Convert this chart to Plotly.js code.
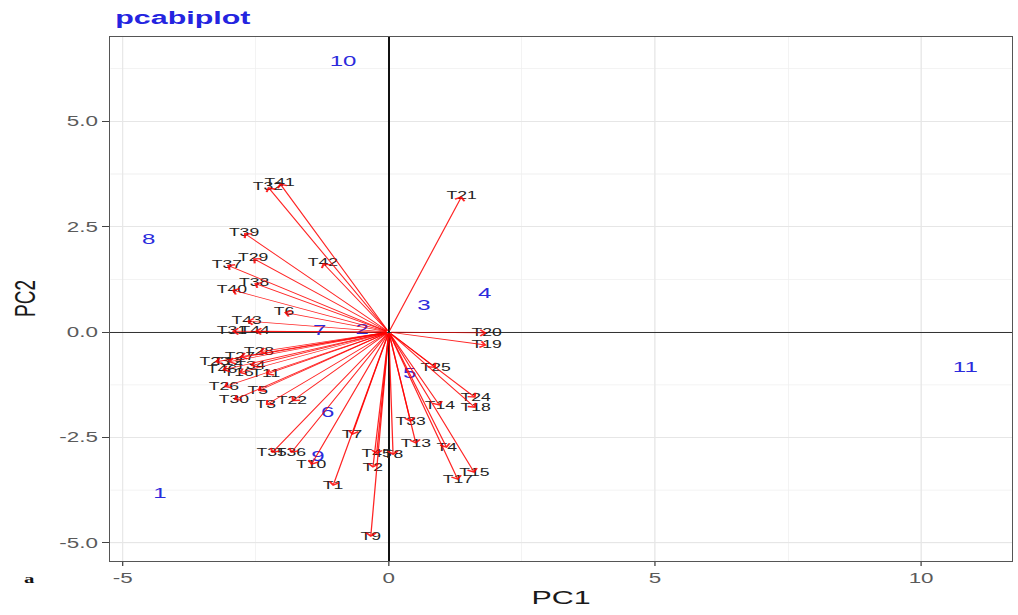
<!DOCTYPE html>
<html>
<head>
<meta charset="utf-8">
<script src="https://cdn.plot.ly/plotly-3.0.1.min.js"></script>
<style>
html,body{margin:0;padding:0;background:#fff;}
#wrap{width:1018px;height:615px;overflow:hidden;}
#plot{width:636px;height:615px;transform:scaleX(1.6006);transform-origin:0 0;}
</style>
</head>
<body>
<div id="wrap"><div id="plot"></div></div>
<script>
// Observations (blue numbers)
const obsLabels = ['1','2','3','4','5','6','7','8','9','10','11'];
const obsPC1 = [-4.30,-0.50,0.66,1.80,0.39,-1.15,-1.30,-4.51,-1.33,-0.86,10.83];
const obsPC2 = [-3.84,0.05,0.62,0.90,-1.00,-1.92,0.02,2.18,-2.96,6.40,-0.85];

// Variable loadings (red arrows)
const varNames = ['T41','T32','T21','T39','T42','T37','T29','T38','T40','T6',
  'T43','T31','T44','T20','T19','T25','T24','T18','T14','T33',
  'T13','T4','T15','T17','T8','T45','T2','T9','T1','T7',
  'T10','T36','T35','T22','T3','T5','T30','T26','T11','T16',
  'T28','T23','T12','T46','T27','T34'];
const varPC1 = [-2.05,-2.27,1.37,-2.72,-1.24,-3.04,-2.55,-2.53,-2.95,-1.97,
  -2.67,-2.95,-2.52,1.84,1.84,0.88,1.63,1.63,0.96,0.41,
  0.51,1.09,1.61,1.30,0.08,-0.23,-0.30,-0.34,-1.05,-0.69,
  -1.46,-1.84,-2.20,-1.82,-2.31,-2.46,-2.91,-3.10,-2.31,-2.82,
  -2.44,-3.27,-3.02,-3.13,-2.80,-2.60];
const varPC2 = [3.53,3.44,3.22,2.35,1.64,1.59,1.75,1.16,1.00,0.47,
  0.26,0.02,0.02,-0.02,-0.31,-0.85,-1.56,-1.80,-1.75,-2.13,
  -2.65,-2.75,-3.34,-3.51,-2.92,-2.90,-3.22,-4.86,-3.65,-2.44,
  -3.15,-2.87,-2.87,-1.64,-1.73,-1.40,-1.61,-1.30,-1.00,-0.97,
  -0.47,-0.71,-0.71,-0.90,-0.59,-0.80];

const xTicks = [-5,0,5,10];
const yTicks = [-5,-2.5,0,2.5,5];
const yTickText = ['-5.0','-2.5','0.0','2.5','5.0'];

const FONT = 'Liberation Sans, Arial, sans-serif';

const traces = [
  {
    type:'scatter', mode:'text', x:varPC1, y:varPC2, text:varNames,
    textposition:'middle center',
    textfont:{family:FONT, size:11, color:'#222'},
    hoverinfo:'skip', showlegend:false, cliponaxis:false
  },
  {
    type:'scatter', mode:'text', x:obsPC1, y:obsPC2, text:obsLabels,
    textposition:'middle center',
    textfont:{family:FONT, size:15, color:'#2b2bdc'},
    hoverinfo:'skip', showlegend:false, cliponaxis:false
  }
];

const annotations = varNames.map((n,i)=>({
  x:varPC1[i], y:varPC2[i], xref:'x', yref:'y',
  ax:0, ay:0, axref:'x', ayref:'y',
  text:'', showarrow:true, arrowhead:4, arrowsize:1.5, arrowwidth:0.8,
  arrowcolor:'rgba(255,0,0,0.85)', standoff:0, startstandoff:0
}));

annotations.push(
  {xref:'paper', yref:'paper', x:0, y:1, xanchor:'left', yanchor:'middle', yshift:20, xshift:1,
   text:'pcabiplot', showarrow:false, font:{family:FONT, size:19, color:'#2424e0', weight:'bold'}},
  {xref:'paper', yref:'paper', x:0.5, y:0, xanchor:'center', yanchor:'middle', yshift:-36,
   text:'PC1', showarrow:false, font:{family:FONT, size:19, color:'#1a1a1a'}},
  {xref:'paper', yref:'paper', x:0, y:0.5, xanchor:'center', yanchor:'middle', xshift:-54,
   text:'PC2', textangle:-90, showarrow:false, font:{family:FONT, size:19, color:'#1a1a1a'}},
  {xref:'paper', yref:'paper', x:0, y:0, xanchor:'center', yanchor:'middle', xshift:-51, yshift:-17,
   text:'a', showarrow:false, font:{family:'Liberation Serif, serif', size:13, color:'#111', weight:'bold'}}
);

const layout = {
  width:636, height:615,
  margin:{l:69, r:4, t:37, b:54, pad:0},
  paper_bgcolor:'#ffffff', plot_bgcolor:'#ffffff',
  showlegend:false,
  xaxis:{
    range:[-5.23,11.70], tickvals:xTicks, ticktext:xTicks.map(String),
    showgrid:true, gridcolor:'#e6e6e6', gridwidth:0.7,
    minor:{tick0:0, dtick:2.5, showgrid:true, gridcolor:'#efefef', gridwidth:0.6, ticks:''},
    zeroline:true, zerolinecolor:'#111', zerolinewidth:1,
    showline:true, mirror:true, linecolor:'#555', linewidth:1,
    ticks:'outside', ticklen:4, tickcolor:'#444', tickwidth:0.8,
    tickfont:{family:FONT, size:14, color:'#5a5a5a'}
  },
  yaxis:{
    range:[-5.43,7.0], tickvals:yTicks, ticktext:yTickText,
    showgrid:true, gridcolor:'#e6e6e6', gridwidth:1,
    minor:{tick0:0, dtick:1.25, showgrid:true, gridcolor:'#efefef', gridwidth:0.8, ticks:''},
    zeroline:true, zerolinecolor:'#333', zerolinewidth:1,
    showline:true, mirror:true, linecolor:'#555', linewidth:1,
    ticks:'outside', ticklen:4, tickcolor:'#444', tickwidth:1,
    tickfont:{family:FONT, size:14, color:'#5a5a5a'}
  },
  annotations:annotations
};

Plotly.newPlot('plot', traces, layout, {displayModeBar:false, staticPlot:true});
</script>
</body>
</html>
